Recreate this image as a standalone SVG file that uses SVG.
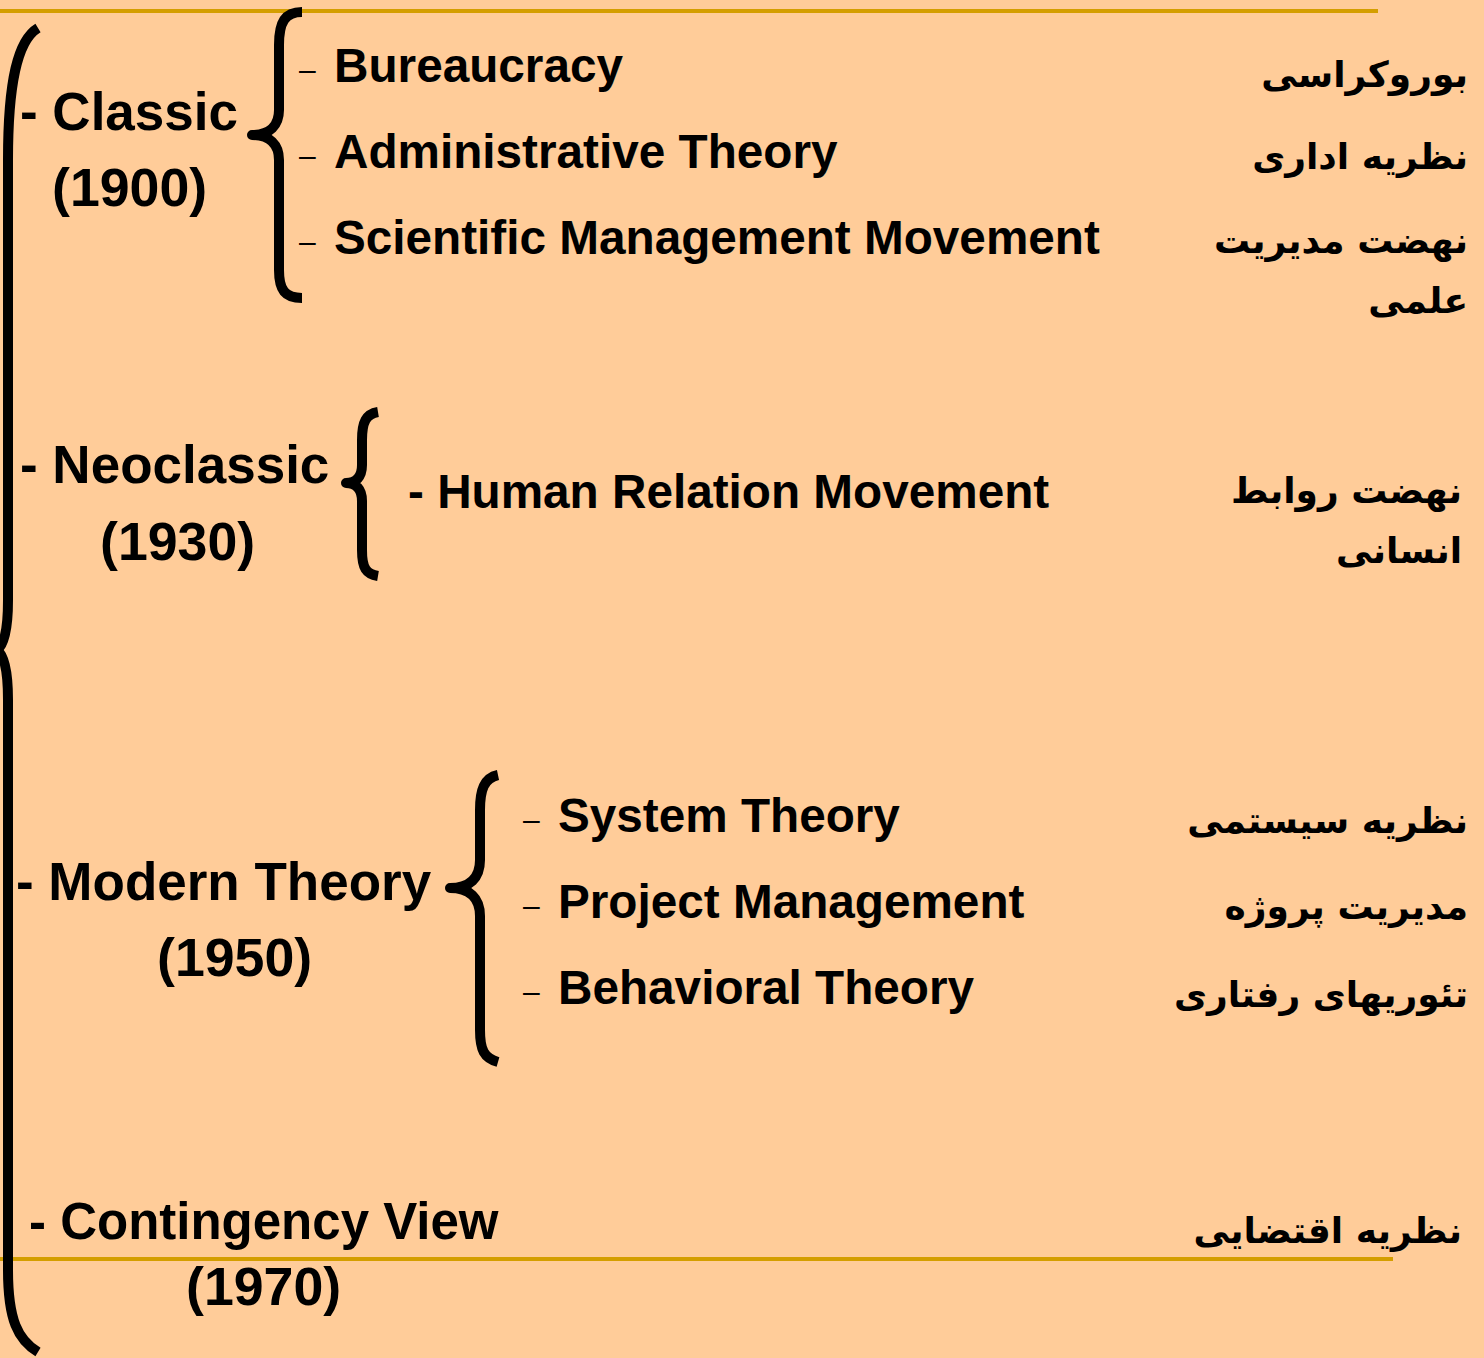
<svg xmlns="http://www.w3.org/2000/svg" width="1484" height="1358" viewBox="0 0 1484 1358">
<style>
.h{font-family:"Liberation Sans",Arial,sans-serif;font-weight:bold;font-size:53px;fill:#000}
.y{font-family:"Liberation Sans",Arial,sans-serif;font-weight:bold;font-size:53.7px;fill:#000}
.s{font-family:"Liberation Sans",Arial,sans-serif;font-weight:bold;font-size:47.7px;fill:#000}
.d{font-family:"Liberation Sans",Arial,sans-serif;font-size:30px;fill:#000}
.fa{font-family:"DejaVu Sans",sans-serif;font-weight:bold;font-size:36px;fill:#000;text-anchor:end}
.br{fill:none;stroke:#000;stroke-width:10;stroke-linejoin:round}
.rule{stroke:#D49E00;stroke-width:4}
</style>
<rect width="1484" height="1358" fill="#FFCC99"/>
<g id="rules">
<line class="rule" x1="0" y1="11" x2="1378" y2="11"/>
<line class="rule" x1="0" y1="1259" x2="1393" y2="1259"/>
</g>
<g id="connectors">
<path class="br" stroke-width="11" d="M38,28 C18,40 8,80 8,160 L8,600 C8,630 4,645 -3,650 C4,655 8,670 8,700 L8,1270 C8,1320 18,1340 38,1352"/>
<path class="br" d="M302,12 C285,12 279,22 279,45 L279,110 C279,125 270,135 252,135 C270,135 279,145 279,160 L279,270 C279,290 285,298 302,298"/>
<path class="br" d="M378,412 C366,414 362,422 362,440 L362,465 C362,477 356,483 346,483 C356,483 362,489 362,501 L362,550 C362,568 366,574 378,576"/>
<path class="br" d="M498,775 C484,778 480,790 480,810 L480,860 C480,878 470,888 450,888 C470,888 480,898 480,916 L480,1030 C480,1050 484,1058 498,1062"/>
</g>
<g id="classic">
<text class="h" x="20" y="130">- Classic</text>
<text class="y" x="52" y="206">(1900)</text>
</g>
<g id="bureaucracy">
<text class="d" x="299" y="80">–</text>
<text class="s" x="334" y="82">Bureaucracy</text>
<text class="fa" x="1468" y="87">بوروکراسی</text>
</g>
<g id="administrative">
<text class="d" x="299" y="166">–</text>
<text class="s" x="334" y="168">Administrative Theory</text>
<text class="fa" x="1468" y="169">نظریه اداری</text>
</g>
<g id="scientific">
<text class="d" x="299" y="252">–</text>
<text class="s" x="334" y="254">Scientific Management Movement</text>
<text class="fa" x="1468" y="253">نهضت مدیریت</text>
<text class="fa" x="1468" y="313">علمی</text>
</g>
<g id="neoclassic">
<text class="h" x="20" y="483">- Neoclassic</text>
<text class="y" x="100" y="560">(1930)</text>
</g>
<g id="human">
<text class="s" x="408" y="508">- Human Relation Movement</text>
<text class="fa" x="1462" y="503">نهضت روابط</text>
<text class="fa" x="1462" y="563">انسانی</text>
</g>
<g id="modern">
<text class="h" x="16" y="900">- Modern Theory</text>
<text class="y" x="157" y="976">(1950)</text>
</g>
<g id="system">
<text class="d" x="523" y="830">–</text>
<text class="s" x="558" y="832">System Theory</text>
<text class="fa" x="1468" y="833">نظریه سیستمی</text>
</g>
<g id="project">
<text class="d" x="523" y="916">–</text>
<text class="s" x="558" y="918">Project Management</text>
<text class="fa" x="1468" y="919">مدیریت پروژه</text>
</g>
<g id="behavioral">
<text class="d" x="523" y="1002">–</text>
<text class="s" x="558" y="1004">Behavioral Theory</text>
<text class="fa" x="1468" y="1007">تئوریهای رفتاری</text>
</g>
<g id="contingency">
<text class="h" x="29" y="1239" style="font-size:51px">- Contingency View</text>
<text class="y" x="186" y="1305">(1970)</text>
<text class="fa" x="1462" y="1243">نظریه اقتضایی</text>
</g>
</svg>
